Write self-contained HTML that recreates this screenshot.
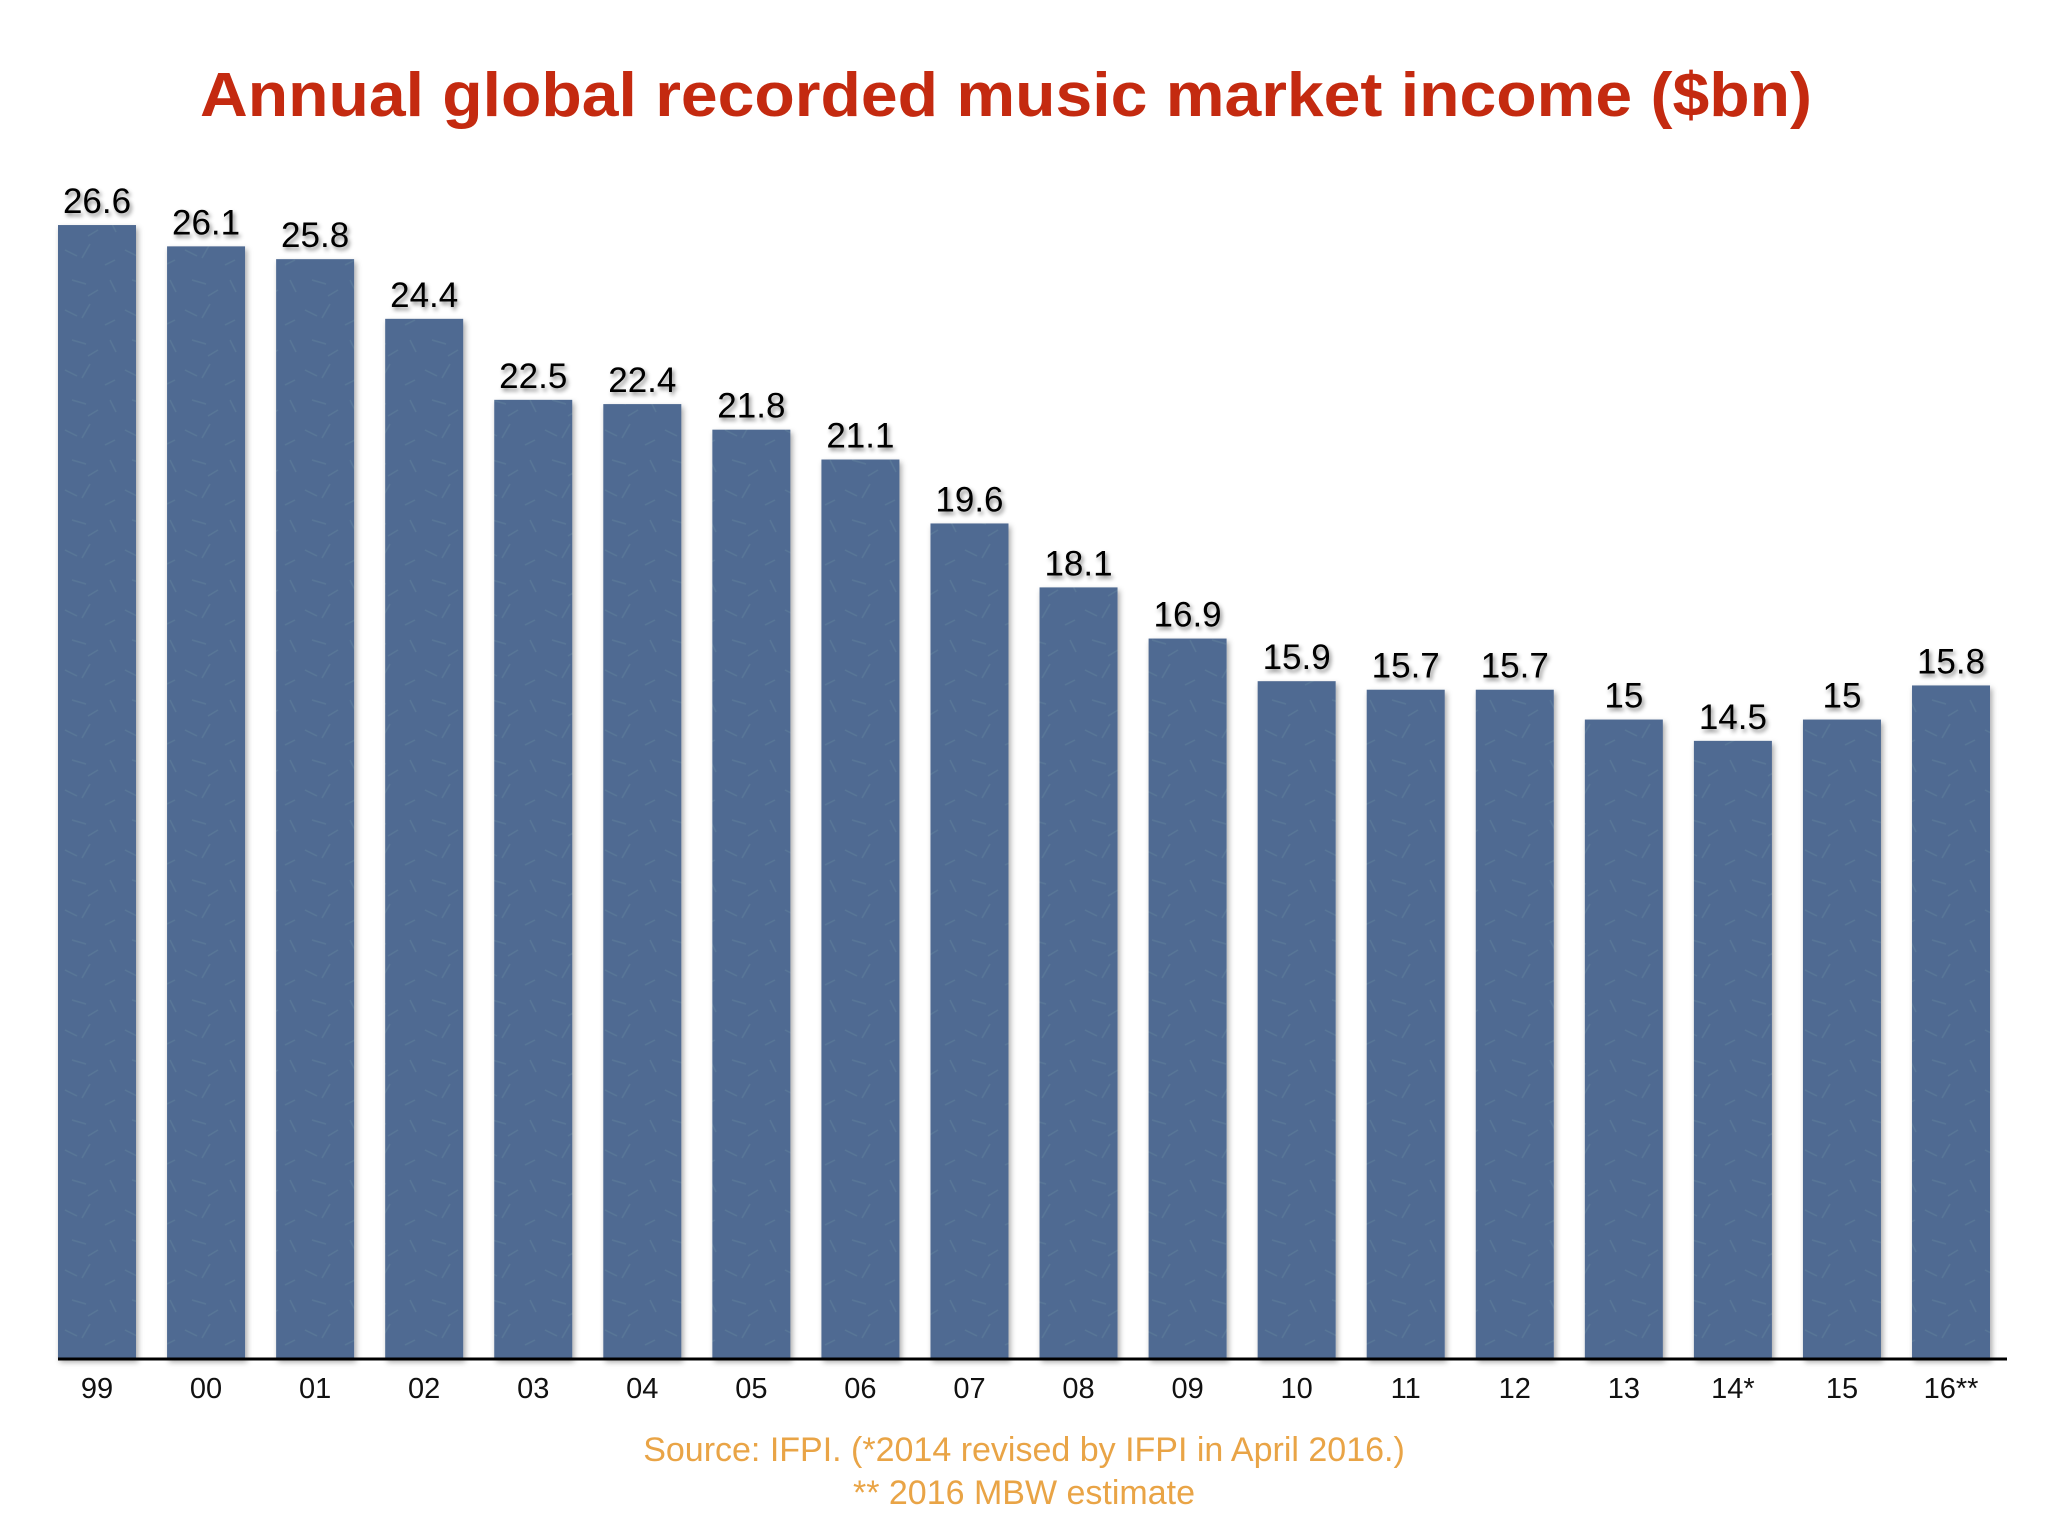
<!DOCTYPE html>
<html><head><meta charset="utf-8"><style>
html,body{margin:0;padding:0;background:#fff;}
svg{display:block;font-family:"Liberation Sans",sans-serif;}
</style></head><body>
<svg id="chart" width="2048" height="1536" viewBox="0 0 2048 1536" xmlns="http://www.w3.org/2000/svg">
<defs>
<filter id="sh" x="-20%" y="-20%" width="140%" height="140%"><feDropShadow dx="2" dy="3" stdDeviation="3" flood-color="#000" flood-opacity="0.35"/></filter>
<filter id="tsh" x="-20%" y="-30%" width="140%" height="160%"><feDropShadow dx="2" dy="3" stdDeviation="2" flood-color="#000" flood-opacity="0.45"/></filter>
<pattern id="tex" width="60" height="60" patternUnits="userSpaceOnUse">
<rect width="60" height="60" fill="#4f6a92"/>
<path d="M5 10 l12 6 M30 4 l-8 14 M45 25 l10 -5 M12 40 l14 4 M38 50 l-10 6 M50 40 l6 12" stroke="#5f7e9a" stroke-width="1.5" opacity="0.6"/>
</pattern>
</defs>
<text x="1006" y="116" text-anchor="middle" font-size="62" font-weight="bold" fill="#c42a10" textLength="1612" lengthAdjust="spacingAndGlyphs">Annual global recorded music market income ($bn)</text>
<g id="bars"></g>
<line x1="58" y1="1359" x2="2007" y2="1359" stroke="#000" stroke-width="3"/>
<text x="1024" y="1461" text-anchor="middle" font-size="34" fill="#e9a446">Source: IFPI. (*2014 revised by IFPI in April 2016.)</text>
<text x="1024" y="1504" text-anchor="middle" font-size="34" fill="#e9a446">** 2016 MBW estimate</text>
</svg>
<script>
const categories = ["99","00","01","02","03","04","05","06","07","08","09","10","11","12","13","14*","15","16**"];
const values = [26.6,26.1,25.8,24.4,22.5,22.4,21.8,21.1,19.6,18.1,16.9,15.9,15.7,15.7,15,14.5,15,15.8];
const valueLabels = ["26.6","26.1","25.8","24.4","22.5","22.4","21.8","21.1","19.6","18.1","16.9","15.9","15.7","15.7","15","14.5","15","15.8"];
const NS="http://www.w3.org/2000/svg";
const baseY=1359, pxPerUnit=42.63, x0=58, pitch=109.06, bw=78;
function xPos(i){return x0+i*pitch;}
function yPos(v){return baseY-v*pxPerUnit;}
const g=document.getElementById('bars');
categories.forEach((c,i)=>{
  const x=xPos(i), y=yPos(values[i]);
  const r=document.createElementNS(NS,'rect');
  
  
  r.setAttribute('x',x);r.setAttribute('y',y);r.setAttribute('width',bw);r.setAttribute('height',baseY-y);
  r.setAttribute('fill','url(#tex)');r.setAttribute('filter','url(#sh)');
  g.appendChild(r);
  const t=document.createElementNS(NS,'text');
  
  
  t.setAttribute('x',x+bw/2);t.setAttribute('y',y-12);t.setAttribute('text-anchor','middle');
  t.setAttribute('font-size','35');t.setAttribute('fill','#000');t.setAttribute('filter','url(#tsh)');
  t.textContent=valueLabels[i];g.appendChild(t);
  const l=document.createElementNS(NS,'text');
  
  
  l.setAttribute('x',x+bw/2);l.setAttribute('y',1398);l.setAttribute('text-anchor','middle');
  l.setAttribute('font-size','29');l.setAttribute('fill','#111');
  l.textContent=c;g.appendChild(l);
});
</script>
</body></html>
